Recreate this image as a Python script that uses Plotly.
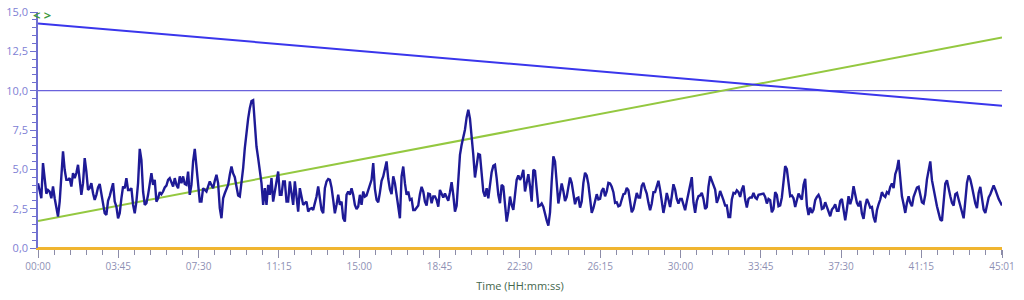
import numpy as np
import plotly.graph_objects as go

# ---------------- data ----------------
DURATION_S = 2701  # 45:01

signal_values = [
    # 00:00 - ~09:45
    4.12, 3.59, 3.16, 5.40, 4.44, 3.45, 3.69, 3.59, 3.16, 3.91, 3.16, 2.53, 2.00, 2.95, 4.76, 6.14,
    4.97, 4.33, 4.33, 4.44, 3.91, 4.76, 4.44, 4.76, 5.29, 4.33, 3.38, 4.12, 5.71, 4.86, 3.69, 3.80,
    4.12, 3.48, 3.06, 3.38, 3.85, 4.07, 3.48, 2.74, 2.21, 2.10, 3.00, 3.30, 3.80, 4.12, 2.95, 2.63,
    1.89, 2.21, 3.16, 3.91, 3.80, 4.44, 3.69, 3.69, 3.80, 2.74, 2.21, 2.95, 4.12, 6.30, 5.60, 3.59,
    2.74, 2.85, 3.38, 4.23, 4.76, 4.01, 4.33, 2.95, 3.16, 3.55, 3.42, 3.59, 3.85, 3.97, 4.33, 4.44,
    4.12, 3.91, 4.44, 4.01, 3.80, 4.55, 4.12, 4.55, 4.07, 4.01, 4.86, 3.38, 4.01, 5.50, 6.30, 5.08,
    3.80, 2.95,
    # ~09:45 - ~19:15
    2.95, 3.80, 3.69, 3.59, 3.91, 4.23, 4.01, 3.80, 4.27, 4.65, 4.12, 2.53, 1.89, 3.16, 3.48, 3.76,
    4.01, 4.65, 5.18, 4.74, 4.50, 3.91, 3.34, 3.27, 4.12, 5.08, 6.35, 7.41, 8.22, 8.89, 9.34, 9.40,
    8.05, 6.45, 5.71, 4.97, 4.12, 2.74, 3.80, 2.74, 4.01, 3.38, 4.44, 2.95, 3.59, 4.23, 4.86, 3.38,
    3.38, 4.23, 4.23, 2.95, 2.95, 4.23, 3.38, 2.74, 4.23, 3.38, 2.31, 3.80, 3.16, 2.74, 2.85, 2.95,
    2.31, 2.48, 2.53, 2.42, 2.85, 3.27, 3.91, 3.16, 2.42, 2.21, 3.80, 4.23, 4.38, 4.33, 3.85, 3.06,
    2.21, 2.74, 3.38, 2.74, 2.95, 1.89, 1.68, 3.38, 3.59, 3.38, 3.80, 3.38, 2.74, 2.48, 2.63, 3.38,
    2.74,
    # ~19:15 - ~28:45
    3.59, 3.27, 3.34, 3.69, 3.97, 4.33, 5.40, 3.76, 3.06, 2.91, 3.52, 4.27, 4.55, 4.97, 5.50, 4.40,
    3.74, 3.42, 4.55, 4.12, 3.27, 2.42, 1.89, 4.55, 5.18, 4.12, 3.38, 3.59, 3.06, 3.12, 2.42, 2.42,
    2.53, 2.70, 3.42, 3.89, 3.59, 2.95, 2.70, 3.46, 3.42, 2.85, 3.27, 3.27, 3.06, 2.63, 3.69, 3.46,
    3.21, 3.46, 3.21, 3.00, 3.55, 4.18, 3.38, 2.31, 2.68, 4.27, 5.92, 6.56, 7.09, 7.52, 8.30, 8.79,
    8.22, 7.20, 5.92, 4.48, 5.18, 5.97, 5.92, 4.86, 3.59, 3.27, 3.80, 3.16, 4.23, 4.82, 5.22, 5.29,
    4.44, 3.38, 2.85, 4.01, 3.91, 2.63, 1.68, 2.31, 3.27, 2.74, 2.42, 3.38, 4.33, 4.61, 4.33, 4.55,
    4.97, 3.59,
    # ~28:45 - ~38:15
    4.23, 4.69, 3.93, 2.95, 4.97, 4.90, 3.76, 2.65, 2.70, 2.83, 2.61, 2.14, 1.76, 1.42, 2.27, 4.23,
    5.82, 5.50, 4.18, 2.83, 3.46, 4.10, 3.63, 2.99, 3.25, 3.97, 4.48, 4.14, 3.42, 2.78, 3.16, 3.21,
    2.57, 2.95, 4.14, 4.78, 4.61, 4.05, 3.16, 2.23, 2.53, 3.08, 3.42, 3.08, 3.12, 3.63, 3.80, 3.29,
    3.59, 4.14, 4.10, 3.89, 3.55, 2.87, 2.91, 2.65, 2.70, 3.08, 3.42, 3.46, 3.82, 3.67, 2.87, 2.27,
    2.48, 3.12, 3.50, 3.21, 3.21, 3.95, 4.14, 3.76, 3.46, 2.87, 2.40, 2.83, 3.55, 3.55, 3.95, 4.27,
    3.71, 2.99, 2.23, 2.78, 3.50, 3.08, 2.61, 3.29, 4.05, 3.71, 3.12, 2.83, 3.12, 3.12, 2.70, 2.40,
    2.95,
    # ~38:15 - ~41:30
    3.55, 4.14, 4.50, 2.91, 2.23, 2.99, 3.29, 3.34, 3.50, 3.12, 2.48, 2.61, 3.89, 4.57, 4.27, 4.10,
    3.71, 2.87, 3.16, 3.63, 3.38, 3.04, 2.70, 2.70, 1.97, 1.97, 3.08, 3.50, 3.46, 3.67, 3.55, 3.25,
    3.71, 3.97, 3.08, 2.57, 3.12, 3.21, 3.21, 3.50, 3.21, 3.12, 3.38, 3.42, 3.44, 3.46, 3.25, 2.83,
    3.12, 3.04, 2.27, 2.48, 3.55, 3.38, 2.65, 2.70, 3.21, 4.18, 5.20, 5.01, 4.01, 3.29, 3.34, 3.16,
    2.61, 2.99, 3.46, 3.25, 3.08, 4.01, 4.40, 2.70, 2.10, 2.57, 2.23, 2.44, 3.04, 3.25, 3.38, 3.12,
    2.48, 2.53, 2.91, 2.61, 2.31, 2.02, 2.44, 2.57, 2.78, 2.36, 2.36, 2.99, 3.12, 2.31, 1.76, 2.48,
    3.29,
    # last part up to 45:01
    2.78, 3.16, 3.93, 3.46, 2.87, 2.65, 2.99, 2.19, 1.85, 2.65, 3.12, 2.87, 2.57, 2.61, 1.97, 1.63,
    2.40, 2.78, 3.08, 3.55, 3.34, 3.25, 3.55, 3.46, 3.89, 4.10, 3.80, 4.69, 5.01, 5.60, 4.40, 3.29,
    2.78, 2.23, 2.87, 3.29, 2.87, 2.65, 3.25, 3.63, 3.84, 3.89, 3.29, 2.91, 2.83, 3.38, 4.36, 4.99,
    5.50, 4.31, 3.71, 3.25, 2.65, 2.23, 1.81, 1.72, 2.99, 4.10, 4.31, 3.71, 3.29, 2.87, 2.70, 3.42,
    3.50, 3.08, 2.65, 2.19, 1.89, 2.99, 4.14, 4.61, 4.36, 3.89, 3.29, 2.83, 2.53, 3.50, 3.89, 3.21,
    2.44, 2.23, 2.83, 3.21, 3.42, 3.67, 3.97, 3.71, 3.34, 3.12, 2.91, 2.70,
]
signal_time_s = np.linspace(0, DURATION_S, len(signal_values))

# straight trend lines (start / end)
trend_time_s = [0, DURATION_S]
blue_trend = [14.27, 9.04]
green_trend = [1.72, 13.38]
threshold_value = 10.0
zero_channel = 0.0

# axis ticks
x_tick_seconds = [0, 225, 450, 675, 900, 1125, 1350, 1575, 1800, 2025, 2250, 2475, 2701]
x_tick_labels = ["00:00", "03:45", "07:30", "11:15", "15:00", "18:45", "22:30",
                 "26:15", "30:00", "33:45", "37:30", "41:15", "45:01"]
y_tick_values = [0, 2.5, 5, 7.5, 10, 12.5, 15]
y_tick_labels = ["0,0", "2,5", "5,0", "7,5", "10,0", "12,5", "15,0"]

# ---------------- figure ----------------
FONT = "Open Sans, Noto Sans, sans-serif"
fig = go.Figure()

fig.add_trace(go.Scatter(x=trend_time_s, y=[zero_channel, zero_channel], mode="lines",
                         line=dict(color="#f0b530", width=2.2), hoverinfo="skip", cliponaxis=False))
fig.add_trace(go.Scatter(x=trend_time_s, y=[threshold_value, threshold_value], mode="lines",
                         line=dict(color="#6a62dc", width=1.2), hoverinfo="skip"))
fig.add_trace(go.Scatter(x=trend_time_s, y=green_trend, mode="lines",
                         line=dict(color="#94c840", width=2), hoverinfo="skip"))
fig.add_trace(go.Scatter(x=trend_time_s, y=blue_trend, mode="lines",
                         line=dict(color="#3a36ec", width=2), hoverinfo="skip"))
fig.add_trace(go.Scatter(x=signal_time_s, y=signal_values, mode="lines",
                         line=dict(color="#1e1a96", width=2.4), hoverinfo="skip"))

fig.add_annotation(x=0, y=15, xref="x", yref="y", text="<b>&lt; &gt;</b>", showarrow=False,
                   xanchor="center", yanchor="middle", yshift=-3, xshift=4,
                   font=dict(family=FONT, size=13, color="#3f9a3f"))

fig.update_layout(
    width=1024, height=300,
    margin=dict(l=38, r=22, t=12, b=52, autoexpand=False),
    paper_bgcolor="white", plot_bgcolor="white",
    showlegend=False,
    font=dict(family=FONT),
    xaxis=dict(
        range=[0, DURATION_S], showgrid=False, zeroline=False, automargin=False,
        showline=True, linecolor="#f0b530", linewidth=2,
        tickmode="array", tickvals=x_tick_seconds, ticktext=x_tick_labels,
        ticks="outside", ticklen=8, tickcolor="#8c8ca8", tickwidth=1,
        tickfont=dict(size=10, color="#8e90b4"),
        minor=dict(tick0=0, dtick=45, ticks="outside", ticklen=5, tickcolor="#8c8ca8", tickwidth=1),
        title=dict(text="Time (HH:mm:ss)", font=dict(size=11, color="#44664c"), standoff=10),
    ),
    yaxis=dict(
        range=[0, 15], showgrid=False, zeroline=False, automargin=False,
        showline=True, linecolor="#7070d0", linewidth=1.5,
        tickmode="array", tickvals=y_tick_values, ticktext=y_tick_labels,
        ticks="outside", ticklen=6, tickcolor="#7070d0", tickwidth=1.2,
        tickfont=dict(size=11, color="#8080d4"),
        minor=dict(tick0=0, dtick=0.5, ticks="outside", ticklen=4, tickcolor="#7070d0", tickwidth=1),
    ),
)

fig.write_html("out.html")
